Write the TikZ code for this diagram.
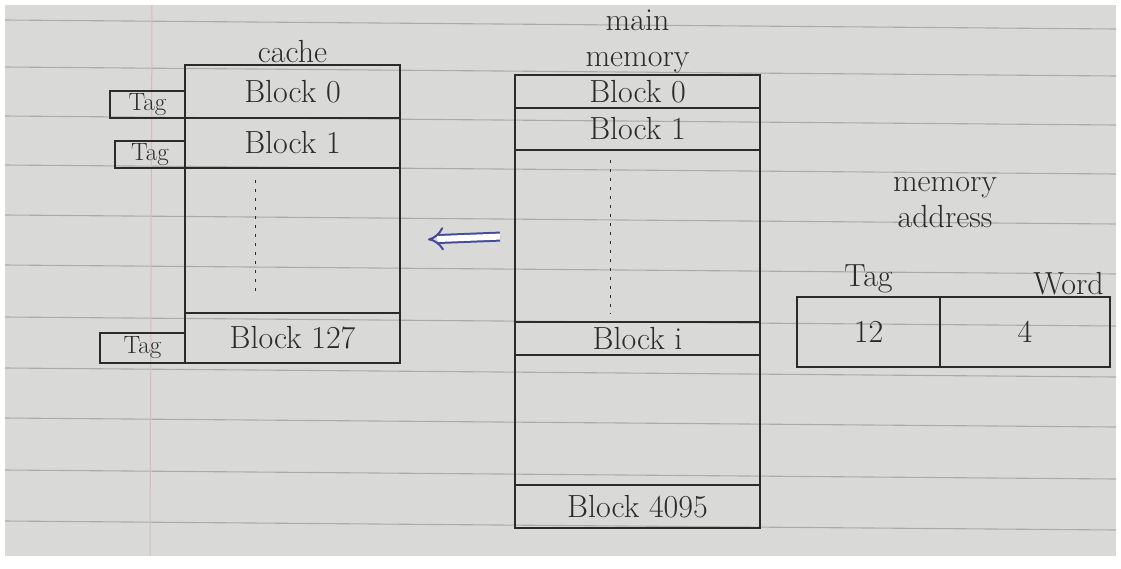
\documentclass[tikz,border=0pt]{standalone}
\usepackage{xcolor}
\usepackage{tikz}
\usetikzlibrary{arrows.meta,positioning}
\definecolor{inkgray}{HTML}{2B2B2B}
\definecolor{penblue}{HTML}{454A9C}
\definecolor{papergray}{HTML}{D9D9D7}
\definecolor{rulegray}{HTML}{ABABAA}
\definecolor{margintint}{HTML}{CDBFBF}
\tikzset{
  hand/.style={font=\fontsize{32}{36}\selectfont,text=inkgray,inner sep=2pt},
  cacherow/.style={hand,draw=inkgray,line width=1.6pt,minimum width=215pt,inner sep=0pt,outer sep=0pt},
  memrow/.style={hand,draw=inkgray,line width=1.6pt,minimum width=245pt,inner sep=0pt,outer sep=0pt},
  tagbox/.style={draw=inkgray,line width=1.6pt,font=\fontsize{25}{27}\selectfont,text=inkgray,inner sep=0pt,outer sep=0pt,minimum height=27pt},
  fieldbox/.style={hand,draw=inkgray,line width=1.6pt,minimum height=70pt,inner sep=0pt,outer sep=0pt},
  dotline/.style={draw=inkgray,line width=1.6pt,dash pattern=on 3pt off 6pt},
  backarrow/.style={-{Implies},double,double distance=6pt,line width=2pt,draw=penblue},
  ruleline/.style={draw=rulegray,line width=1.1pt},
}
\begin{document}
\begin{tikzpicture}[x=1pt,y=-1pt,node distance=0pt]
    \useasboundingbox (0,0) rectangle (1121,568);
    % lined paper
    \fill[papergray] (5,5) rectangle (1116,556);
    \foreach \ry in {20,67,116,165,215,265,317,368,418,470,521}
      \draw[ruleline] (5,\ry) -- (1116,\ry+9);
    \draw[margintint,line width=1pt] (152,5) -- (150,556);
    % cache
    \node[cacherow,minimum height=53pt] (c0) at (292.5,91.5) {Block 0};
    \node[cacherow,minimum height=50pt,below=of c0] (c1) {Block 1};
    \node[cacherow,minimum height=145pt,below=of c1] (cgap) {};
    \node[cacherow,minimum height=50pt,below=of cgap] (c127) {Block 127};
    \node[hand,above=0pt of c0] (ctitle) {cache};
    \node[tagbox,minimum width=75pt,anchor=south east] (t0) at (c0.south west) {Tag};
    \node[tagbox,minimum width=70pt,anchor=south east] (t1) at (c1.south west) {Tag};
    \node[tagbox,minimum width=85pt,minimum height=30pt,anchor=south east] (t127) at (c127.south west) {Tag};
    \draw[dotline,shorten <=12pt,shorten >=22pt] ([xshift=-37pt]c1.south) -- ([xshift=-37pt]c127.north);
    % main memory
    \node[memrow,minimum height=33pt] (m0) at (637.5,91.5) {Block 0};
    \node[memrow,minimum height=42pt,below=of m0] (m1) {Block 1};
    \node[memrow,minimum height=172pt,below=of m1] (mgap1) {};
    \node[memrow,minimum height=33pt,below=of mgap1] (mi) {Block i};
    \node[memrow,minimum height=130pt,below=of mi] (mgap2) {};
    \node[memrow,minimum height=43pt,below=of mgap2] (m4095) {Block 4095};
    \node[hand,align=center,above=0pt of m0] (mtitle) {main\\memory};
    \draw[dotline,shorten <=10pt,shorten >=8pt] ([xshift=-27pt]m1.south) -- ([xshift=-27pt]mi.north);
    % mapping arrow
    \draw[backarrow,shorten <=15pt,shorten >=28pt] (mgap1.west) -- (cgap.east);
    % memory address
    \node[fieldbox,minimum width=143pt] (ta) at (868.5,332) {12};
    \node[fieldbox,minimum width=170pt,right=of ta] (wd) {4};
    \node[hand,above=2pt of ta] (tatitle) {Tag};
    \node[hand,anchor=south east] (wdtitle) at ([xshift=-4pt]wd.north east) {Word};
    \node[hand,align=center] (atitle) at (945,203) {memory\\address};
  \end{tikzpicture}
\end{document}
